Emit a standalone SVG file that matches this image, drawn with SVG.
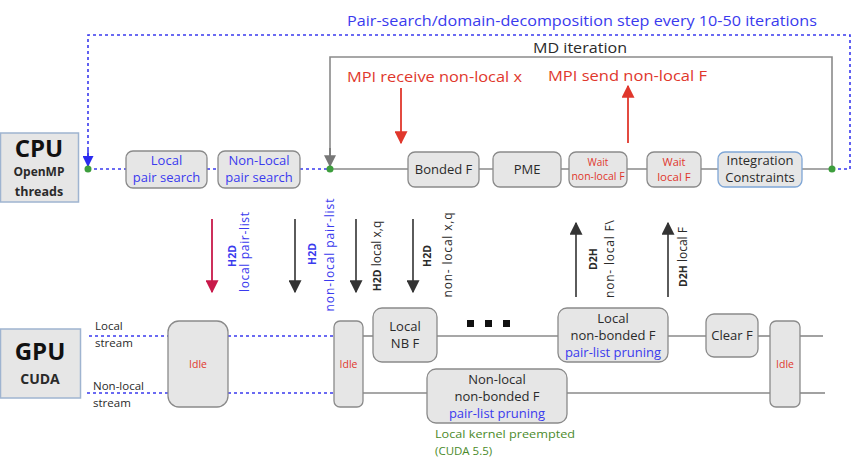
<svg xmlns="http://www.w3.org/2000/svg" width="857" height="459" viewBox="0 0 857 459">
<defs>
<style>
text{font-family:"Open Sans","DejaVu Sans",sans-serif;}
.box{fill:#e6e6e6;stroke:#8a8a8a;stroke-width:1.3;}
.hw{fill:#e6e6e6;stroke:#9fb4d0;stroke-width:1.5;}
.blue{fill:#3a3aee;}
.red{fill:#e0372c;}
.dark{fill:#2a2a2a;}
.bdot{stroke:#3a3aee;stroke-width:1.6;stroke-dasharray:3,3;fill:none;}
.gline{stroke:#8a8a8a;stroke-width:1.6;fill:none;}
.dot{fill:#3d9e3d;}
.bt{font-size:13px;text-anchor:middle;}
.vt{font-size:12px;text-anchor:middle;}
.vb{font-size:10.5px;font-weight:bold;text-anchor:middle;}
</style>
<marker id="ab" viewBox="0 0 10 10" refX="9" refY="5" markerWidth="11" markerHeight="11" markerUnits="userSpaceOnUse" orient="auto"><path d="M0,0 L10,5 L0,10 z" fill="#2b2bf0"/></marker>
<marker id="ag" viewBox="0 0 10 10" refX="9" refY="5" markerWidth="12" markerHeight="12" markerUnits="userSpaceOnUse" orient="auto"><path d="M0,0 L10,5 L0,10 z" fill="#777"/></marker>
<marker id="ar" viewBox="0 0 10 10" refX="9" refY="5" markerWidth="13" markerHeight="13" markerUnits="userSpaceOnUse" orient="auto"><path d="M0,0 L10,5 L0,10 z" fill="#e0372c"/></marker>
<marker id="ac" viewBox="0 0 10 10" refX="9" refY="5" markerWidth="13" markerHeight="13" markerUnits="userSpaceOnUse" orient="auto"><path d="M0,0 L10,5 L0,10 z" fill="#c8194a"/></marker>
<marker id="ak" viewBox="0 0 10 10" refX="9" refY="5" markerWidth="13" markerHeight="13" markerUnits="userSpaceOnUse" orient="auto"><path d="M0,0 L10,5 L0,10 z" fill="#333"/></marker>
</defs>
<rect width="857" height="459" fill="#fff"/>

<g id="connectors">
<polyline class="bdot" points="832,169 850,169 850,35 88,35 88,158"/>
<line x1="88" y1="150" x2="88" y2="166" stroke="#2b2bf0" stroke-width="1.5" marker-end="url(#ab)"/>
<line class="bdot" x1="88" y1="169" x2="126" y2="169"/>
<line class="bdot" x1="207" y1="169" x2="218" y2="169"/>
<line class="bdot" x1="300" y1="169" x2="330" y2="169"/>
<polyline class="gline" points="832,169 832,57 330,57 330,162"/>
<line x1="330" y1="148" x2="330" y2="166" stroke="#777" stroke-width="1.6" marker-end="url(#ag)"/>
<line class="gline" x1="330" y1="169" x2="832" y2="169"/>
<line x1="401" y1="88" x2="401" y2="143" stroke="#e0372c" stroke-width="1.8" marker-end="url(#ar)"/>
<line x1="628" y1="143" x2="628" y2="86" stroke="#e0372c" stroke-width="1.8" marker-end="url(#ar)"/>
<line x1="212" y1="219" x2="212" y2="292" stroke="#c8194a" stroke-width="1.8" marker-end="url(#ac)"/>
<line x1="295" y1="219" x2="295" y2="292" stroke="#333" stroke-width="1.6" marker-end="url(#ak)"/>
<line x1="356" y1="219" x2="356" y2="292" stroke="#333" stroke-width="1.6" marker-end="url(#ak)"/>
<line x1="413" y1="219" x2="413" y2="292" stroke="#333" stroke-width="1.6" marker-end="url(#ak)"/>
<line x1="576" y1="297" x2="576" y2="223" stroke="#333" stroke-width="1.6" marker-end="url(#ak)"/>
<line x1="668" y1="297" x2="668" y2="223" stroke="#333" stroke-width="1.6" marker-end="url(#ak)"/>
<line class="bdot" x1="89" y1="336" x2="168" y2="336"/>
<line class="bdot" x1="228" y1="336" x2="334" y2="336"/>
<line class="bdot" x1="87" y1="393" x2="168" y2="393"/>
<line class="bdot" x1="228" y1="393" x2="334" y2="393"/>
<polyline class="gline" points="363,336 373,336"/>
<polyline class="gline" points="437,336 558,336"/>
<polyline class="gline" points="668,336 706,336"/>
<polyline class="gline" points="758,336 770,336"/>
<polyline class="gline" points="800,336 823,336"/>
<polyline class="gline" points="363,393 427,393"/>
<polyline class="gline" points="567,393 770,393"/>
<polyline class="gline" points="800,393 825,393"/>
<circle class="dot" cx="88" cy="169" r="3.5"/>
<circle class="dot" cx="330" cy="169" r="3.5"/>
<circle class="dot" cx="832" cy="169" r="3.5"/>
</g>

<g id="labels">
<text class="blue" x="347" y="26" font-size="15" textLength="470" lengthAdjust="spacingAndGlyphs">Pair-search/domain-decomposition step every 10-50 iterations</text>
<text class="dark" x="533" y="53" font-size="14.5" textLength="94" lengthAdjust="spacingAndGlyphs">MD iteration</text>
<text class="red" x="347" y="82" font-size="15" textLength="175" lengthAdjust="spacingAndGlyphs">MPI receive non-local x</text>
<text class="red" x="548" y="81" font-size="15" textLength="159" lengthAdjust="spacingAndGlyphs">MPI send non-local F</text>
<text class="dark" x="95" y="330" font-size="11.5">Local</text>
<text class="dark" x="95" y="347" font-size="11.5">stream</text>
<text class="dark" x="93" y="390" font-size="11.5">Non-local</text>
<text class="dark" x="93" y="407" font-size="11.5">stream</text>
<text class="blue vb" transform="translate(236,256) rotate(-90)">H2D</text>
<text class="blue vt" transform="translate(249,252) rotate(-90)" textLength="80">local pair-list</text>
<text class="blue vb" transform="translate(316,254) rotate(-90)">H2D</text>
<text class="blue vt" transform="translate(334,255) rotate(-90)" textLength="113">non-local pair-list</text>
<text class="dark vt" transform="translate(381,256) rotate(-90)"><tspan font-weight="bold" font-size="10.5">H2D</tspan> local x,q</text>
<text class="dark vb" transform="translate(431,256) rotate(-90)">H2D</text>
<text class="dark vt" transform="translate(452,255) rotate(-90)" textLength="85">non- local x,q</text>
<text class="dark vb" transform="translate(597,259) rotate(-90)">D2H</text>
<text class="dark vt" transform="translate(614,259) rotate(-90)" textLength="78">non- local F\</text>
<text class="dark vt" transform="translate(687,257) rotate(-90)"><tspan font-weight="bold" font-size="10.5">D2H</tspan> local F</text>
<g fill="#111">
<rect x="467" y="320" width="7" height="7"/>
<rect x="485" y="320" width="7" height="7"/>
<rect x="503" y="320" width="7" height="7"/>
</g>
<text x="435" y="438" font-size="11.5" fill="#4a8a2a" textLength="140" lengthAdjust="spacingAndGlyphs">Local kernel preempted</text>
<text x="435" y="455" font-size="11.5" fill="#4a8a2a">(CUDA 5.5)</text>
</g>

<g id="cpu">
<rect class="hw" x="0.5" y="133" width="78" height="69"/>
<text x="39" y="157" font-size="24" font-weight="bold" text-anchor="middle" fill="#111">CPU</text>
<text class="dark" x="39" y="176" font-size="12" font-weight="bold" text-anchor="middle">OpenMP</text>
<text class="dark" x="39" y="196" font-size="12.5" font-weight="bold" text-anchor="middle">threads</text>
</g>

<g id="local-pair-search">
<rect class="box" x="126" y="151" width="81" height="37" rx="7"/>
<text class="blue bt" x="166.5" y="165">Local</text>
<text class="blue bt" x="166.5" y="182">pair search</text>
</g>
<g id="nonlocal-pair-search">
<rect class="box" x="218" y="151" width="82" height="37" rx="7"/>
<text class="blue bt" x="259" y="165">Non-Local</text>
<text class="blue bt" x="259" y="182">pair search</text>
</g>
<g id="bonded">
<rect class="box" x="408" y="152" width="71" height="35" rx="7"/>
<text class="dark bt" x="443.5" y="174" font-size="13.5">Bonded F</text>
</g>
<g id="pme">
<rect class="box" x="493" y="152" width="68" height="35" rx="7"/>
<text class="dark bt" x="527" y="174" font-size="13.5">PME</text>
</g>
<g id="wait-nonlocal">
<rect class="box" x="569" y="152" width="58" height="35" rx="7"/>
<text class="red" x="598" y="166" font-size="10" text-anchor="middle">Wait</text>
<text class="red" x="598" y="180" font-size="10.5" text-anchor="middle">non-local F</text>
</g>
<g id="wait-local">
<rect class="box" x="647" y="152" width="54" height="35" rx="7"/>
<text class="red" x="674" y="166" font-size="11" text-anchor="middle">Wait</text>
<text class="red" x="674" y="181" font-size="11.5" text-anchor="middle">local F</text>
</g>
<g id="integration">
<rect class="box" x="718" y="152" width="84" height="35" rx="7" style="stroke:#7fa6d6"/>
<text class="dark bt" x="760" y="165">Integration</text>
<text class="dark bt" x="760" y="182">Constraints</text>
</g>

<g id="gpu">
<rect class="hw" x="0.5" y="329" width="80" height="69"/>
<text x="40" y="360" font-size="24" font-weight="bold" text-anchor="middle" fill="#111">GPU</text>
<text class="dark" x="40" y="384" font-size="14" font-weight="bold" text-anchor="middle">CUDA</text>
</g>
<g id="idle1">
<rect class="box" x="168" y="321" width="60" height="86" rx="11"/>
<text class="red" x="198" y="368" font-size="10.5" text-anchor="middle">Idle</text>
</g>
<g id="idle2">
<rect class="box" x="334" y="321" width="29" height="86" rx="6"/>
<text class="red" x="348.5" y="368" font-size="10.5" text-anchor="middle">Idle</text>
</g>
<g id="local-nbf">
<rect class="box" x="373" y="308" width="64" height="54" rx="9"/>
<text class="dark bt" x="405" y="331">Local</text>
<text class="dark bt" x="405" y="348">NB F</text>
</g>
<g id="nonlocal-nonbonded">
<rect class="box" x="427" y="369" width="140" height="54" rx="9"/>
<text class="dark bt" x="497" y="384">Non-local</text>
<text class="dark bt" x="497" y="401">non-bonded F</text>
<text class="blue bt" x="497" y="418">pair-list pruning</text>
</g>
<g id="local-nonbonded">
<rect class="box" x="558" y="308" width="110" height="54" rx="9"/>
<text class="dark bt" x="613" y="323">Local</text>
<text class="dark bt" x="613" y="340">non-bonded F</text>
<text class="blue bt" x="613" y="357">pair-list pruning</text>
</g>
<g id="clear-f">
<rect class="box" x="706" y="314" width="52" height="43" rx="8"/>
<text class="dark" x="732" y="340" font-size="13" text-anchor="middle">Clear F</text>
</g>
<g id="idle3">
<rect class="box" x="770" y="321" width="30" height="86" rx="6"/>
<text class="red" x="785" y="368" font-size="10.5" text-anchor="middle">Idle</text>
</g>
</svg>
